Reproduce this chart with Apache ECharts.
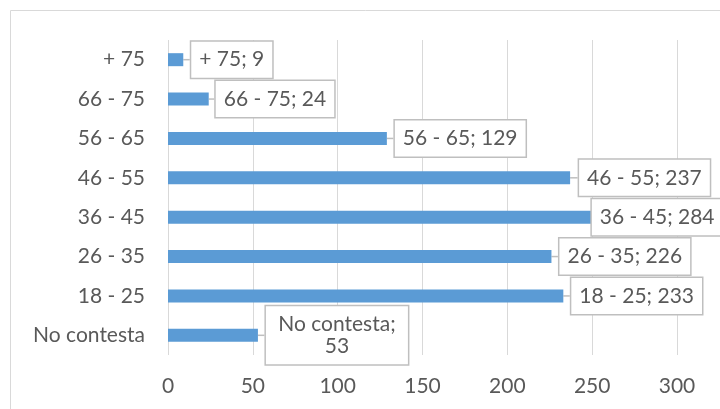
<!DOCTYPE html>
<html>
<head>
<meta charset="utf-8">
<script src="https://cdn.jsdelivr.net/npm/echarts@6/dist/echarts.min.js"></script>
<style>
  html, body { margin: 0; padding: 0; background: #fff; }
  #chart { width: 720px; height: 409px; }
</style>
</head>
<body>
<div id="chart"></div>
<script>
  // age groups, bottom to top as in the picture
  var categories = ["No contesta", "18 - 25", "26 - 35", "36 - 45", "46 - 55", "56 - 65", "66 - 75", "+ 75"];
  var counts = [53, 233, 226, 284, 237, 129, 24, 9];
  var xTicks = [0, 50, 100, 150, 200, 250, 300];

  // where each callout box sits, relative to the bar end
  var labelDx = [79, 8, 8, -58, 9, 8, 7, 8];

  var chartDom = document.getElementById("chart");
  var myChart = echarts.init(chartDom, null, { renderer: "canvas" });
  var font = "Lato, 'Liberation Sans', sans-serif";

  var option = {
    animation: false,
    graphic: [
      {
        type: "rect",
        shape: { x: 10.5, y: 10.5, width: 720, height: 410 },
        style: { fill: "none", stroke: "#D9D9D9", lineWidth: 1 },
        z: -1
      }
    ],
    grid: { left: 168, right: 43, top: 40, bottom: 54 },
    xAxis: {
      type: "value",
      min: xTicks[0],
      max: xTicks[xTicks.length - 1],
      interval: 50,
      axisLine: { show: false },
      axisTick: { show: false },
      axisLabel: { color: "#595959", fontSize: 21, fontFamily: font, margin: 21 },
      splitLine: { lineStyle: { color: "#D9D9D9", width: 1 } }
    },
    yAxis: {
      type: "category",
      data: categories,
      axisLine: { show: false },
      axisTick: { show: false },
      axisLabel: { color: "#595959", fontSize: 21, fontFamily: font, margin: 23 }
    },
    series: [
      {
        type: "bar",
        data: counts,
        barWidth: 13,
        itemStyle: { color: "#5B9BD5" },
        label: {
          show: true,
          position: "right",
          distance: 0,
          color: "#595959",
          fontSize: 21,
          fontFamily: font,
          lineHeight: 22,
          backgroundColor: "#fff",
          borderColor: "#BFBFBF",
          borderWidth: 1.5,
          padding: [7, 8],
          formatter: function (p) {
            if (p.name === "No contesta") {
              return p.name + ";\n" + p.value;
            }
            return p.name + "; " + p.value;
          }
        },
        labelLine: {
          show: true,
          lineStyle: { color: "#BFBFBF", width: 1.5 }
        },
        labelLayout: function (params) {
          return { dx: labelDx[params.dataIndex], dy: 0 };
        }
      }
    ]
  };

  // the two-line callout is centred
  option.series[0].data = counts.map(function (v, i) {
    if (categories[i] === "No contesta") {
      return { value: v, label: { align: "center", width: 126 } };
    }
    return v;
  });

  option && myChart.setOption(option);
</script>
</body>
</html>
